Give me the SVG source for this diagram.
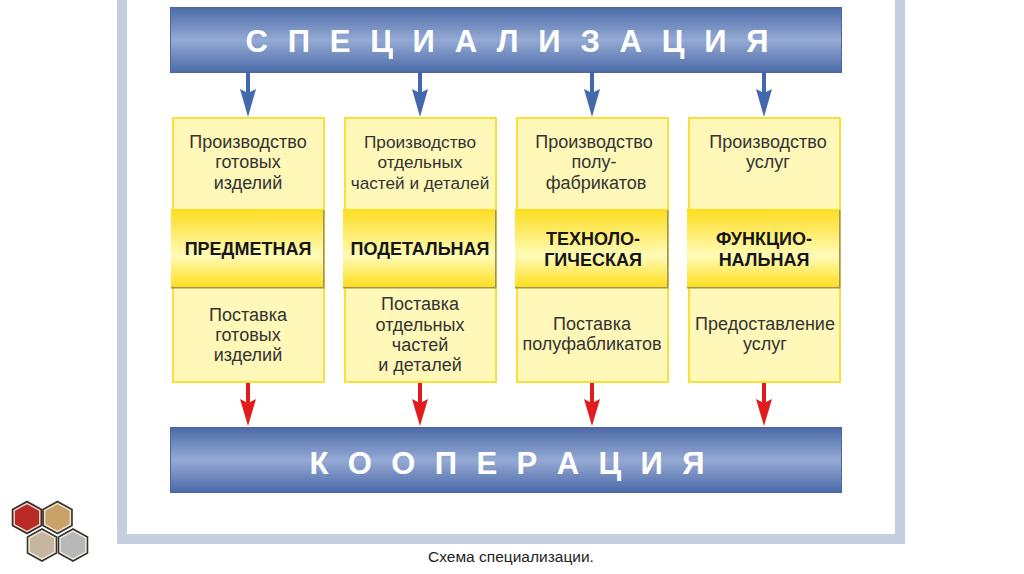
<svg xmlns="http://www.w3.org/2000/svg" width="1024" height="574" viewBox="0 0 1024 574">
<defs>
<linearGradient id="blue" x1="0" y1="0" x2="0" y2="1"><stop offset="0" stop-color="#4c6aa8"/><stop offset="0.5" stop-color="#95aad4"/><stop offset="1" stop-color="#4c6aa8"/></linearGradient>
<linearGradient id="gold" x1="0" y1="0" x2="0" y2="1"><stop offset="0" stop-color="#fedd1e"/><stop offset="0.6" stop-color="#fffbb8"/><stop offset="1" stop-color="#fedd1e"/></linearGradient>
<polygon id="hx" points="0,-16 14.500,-8 14.500,8 0,16 -14.500,8 -14.500,-8"/>
</defs>
<style>
.t{font-family:"Liberation Sans",Arial,sans-serif;font-size:18px;fill:#333;text-anchor:middle}
.b{font-family:"Liberation Sans",Arial,sans-serif;font-size:18px;font-weight:bold;fill:#161616;text-anchor:middle}
.h{font-family:"Liberation Sans",Arial,sans-serif;font-size:31px;font-weight:bold;fill:#fff;text-anchor:middle}
.bar{fill:url(#blue);stroke:#4a66a4;stroke-width:1}
.box{fill:#fff8b8;stroke:#f8df3c;stroke-width:2}
.mid{fill:url(#gold)}
.sh{fill:#9a9456}
.bl{fill:#4468ac}.rd{fill:#e01c1c}
.hex{stroke-width:1.6;stroke:#333}
.rim{fill:none;stroke:#f4ead8;stroke-width:1.4}
</style>
<rect width="1024" height="574" fill="#fff"/>
<g id="frame"><path d="M117,0H127V534H895V0H905V544H117Z" fill="#c5cee0"/></g>
<g id="connectors">
<path class="bl" d="M246,73H250V92L256,89L248,117L240,89L246,92Z"/>
<path class="bl" d="M418,73H422V92L428,89L420,117L412,89L418,92Z"/>
<path class="bl" d="M590,73H594V92L600,89L592,117L584,89L590,92Z"/>
<path class="bl" d="M762,73H766V92L772,89L764,117L756,89L762,92Z"/>
<path class="rd" d="M246,382H250V402L256,399L248,426L240,399L246,402Z"/>
<path class="rd" d="M418,382H422V402L428,399L420,426L412,399L418,402Z"/>
<path class="rd" d="M590,382H594V402L600,399L592,426L584,399L590,402Z"/>
<path class="rd" d="M762,382H766V402L772,399L764,426L756,399L762,402Z"/>
</g>
<g id="spec"><rect class="bar" x="170.500" y="7.500" width="671" height="65"/><text class="h" x="507" y="52" textLength="523" lengthAdjust="spacing">С П Е Ц И А Л И З А Ц И Я</text></g>
<g id="coop"><rect class="bar" x="170.500" y="427.500" width="671" height="65"/><text class="h" x="507" y="474" textLength="395" lengthAdjust="spacing">К О О П Е Р А Ц И Я</text></g>
<g id="col1">
<rect class="box" x="173" y="118" width="151" height="264"/>
<rect class="sh" x="171" y="210" width="153.500" height="78.500"/><rect class="mid" x="171" y="209" width="152" height="78"/>
<text class="t"><tspan x="248" y="148">Производство</tspan><tspan x="248" y="168">готовых</tspan><tspan x="248" y="188.500">изделий</tspan></text>
<text class="b" x="248" y="255">ПРЕДМЕТНАЯ</text>
<text class="t"><tspan x="248" y="321">Поставка</tspan><tspan x="248" y="341">готовых</tspan><tspan x="248" y="361">изделий</tspan></text>
</g>
<g id="col2">
<rect class="box" x="345" y="118" width="151" height="264"/>
<rect class="sh" x="343" y="210" width="153.500" height="78.500"/><rect class="mid" x="343" y="209" width="152" height="78"/>
<text class="t" style="font-size:17.200px"><tspan x="420" y="148">Производство</tspan><tspan x="420" y="168">отдельных</tspan><tspan x="420" y="188.500">частей и деталей</tspan></text>
<text class="b" x="420" y="255">ПОДЕТАЛЬНАЯ</text>
<text class="t"><tspan x="420" y="310">Поставка</tspan><tspan x="420" y="331">отдельных</tspan><tspan x="420" y="351">частей</tspan><tspan x="420" y="371">и деталей</tspan></text>
</g>
<g id="col3">
<rect class="box" x="517" y="118" width="151" height="264"/>
<rect class="sh" x="515" y="210" width="153.500" height="78.500"/><rect class="mid" x="515" y="209" width="152" height="78"/>
<text class="t"><tspan x="594" y="148">Производство</tspan><tspan x="594" y="168">полу-</tspan><tspan x="596" y="188.500">фабрикатов</tspan></text>
<text class="b"><tspan x="593" y="245">ТЕХНОЛО-</tspan><tspan x="593" y="266">ГИЧЕСКАЯ</tspan></text>
<text class="t"><tspan x="592" y="330">Поставка</tspan><tspan x="592" y="350">полуфабликатов</tspan></text>
</g>
<g id="col4">
<rect class="box" x="689" y="118" width="151" height="264"/>
<rect class="sh" x="687" y="210" width="153.500" height="78.500"/><rect class="mid" x="687" y="209" width="152" height="78"/>
<text class="t"><tspan x="768" y="148">Производство</tspan><tspan x="746" y="168" text-anchor="start">услуг</tspan></text>
<text class="b"><tspan x="764" y="245">ФУНКЦИО-</tspan><tspan x="764" y="266">НАЛЬНАЯ</tspan></text>
<text class="t"><tspan x="765" y="330">Предоставление</tspan><tspan x="765" y="350">услуг</tspan></text>
</g>
<g id="logo">
<use href="#hx" class="hex" fill="#b92a24" x="27" y="517.500"/>
<use href="#hx" class="hex" fill="#c9a26a" x="57.500" y="517.500"/>
<use href="#hx" class="hex" fill="#c5b6a0" x="42" y="545"/>
<use href="#hx" class="hex" fill="#b8b8b8" x="73" y="545"/>
<use href="#hx" class="rim" transform="translate(27,517.500) scale(.88)"/>
<use href="#hx" class="rim" transform="translate(57.500,517.500) scale(.88)"/>
<use href="#hx" class="rim" transform="translate(42,545) scale(.88)"/>
<use href="#hx" class="rim" transform="translate(73,545) scale(.88)"/>
</g>
<g id="caption"><text x="511" y="562" style="font-family:'Liberation Sans',Arial,sans-serif;font-size:15.500px;fill:#222;text-anchor:middle">Схема специализации.</text></g>
</svg>
